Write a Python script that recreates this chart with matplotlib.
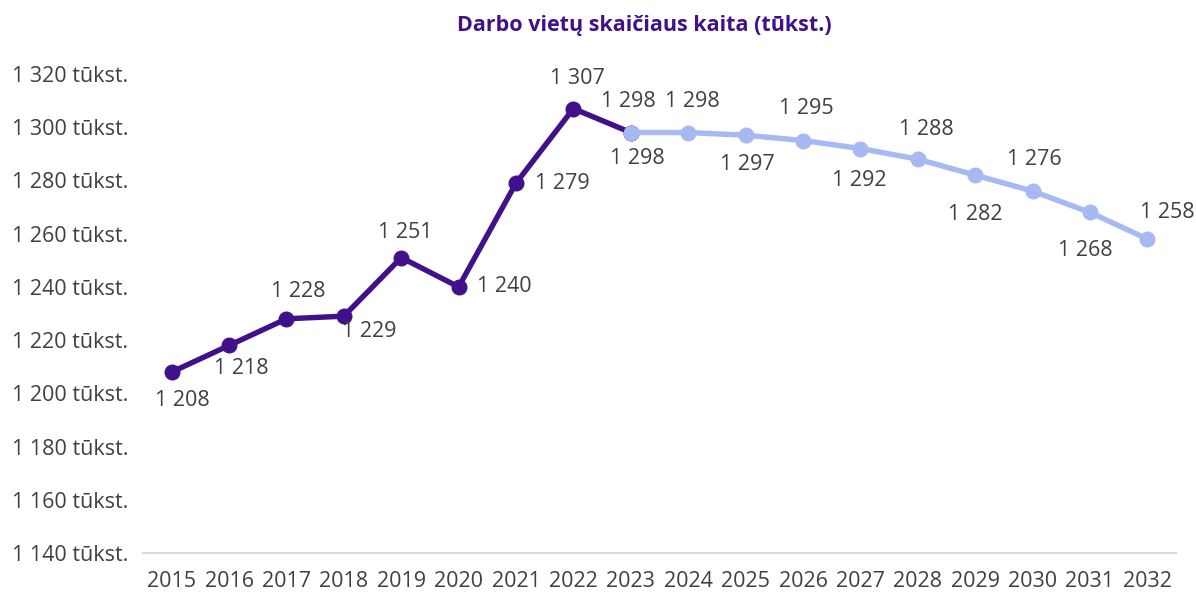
import matplotlib
matplotlib.use("Agg")
import matplotlib.pyplot as plt

plt.rcParams['font.family'] = ['Open Sans', 'DejaVu Sans']

# --- data ---
years = list(range(2015, 2033))
hist_years = list(range(2015, 2024))
hist_vals = [1208, 1218, 1228, 1229, 1251, 1240, 1279, 1307, 1298]
fc_years = list(range(2023, 2033))
fc_vals = [1298, 1298, 1297, 1295, 1292, 1288, 1282, 1276, 1268, 1258]
yticks = list(range(1140, 1321, 20))

# label offsets in pixels (dx, dy up) relative to the marker
hist_off = [(11, -28), (12, -23), (12, 27), (25, -15), (4, 25),
            (46, 0), (46, 0), (4, 30), (-2, 31)]
fc_off = [(7, -26), (4, 31), (2, -29), (3, 32), (-1, -32),
          (9, 30), (0, -39), (2, 32), (-5, -38), (20, 26)]

dark = '#41118B'
light = '#A6B9F2'
txt = '#404040'
fs = 15.5


def fmt(v):
    return f"{v:,}".replace(",", " ")


fig = plt.figure(figsize=(11.96, 5.94), dpi=100)
ax = fig.add_axes([143 / 1196, 1 - 553 / 594, (1176 - 143) / 1196, (553 - 74) / 594])

ax.plot(hist_years, hist_vals, color=dark, lw=3.9, marker='o', ms=10.5, zorder=2)
ax.plot(fc_years, fc_vals, color=light, lw=3.9, marker='o', ms=10.5, zorder=3)

for x, v, (dx, dy) in zip(hist_years, hist_vals, hist_off):
    ax.annotate(fmt(v), (x, v), xytext=(dx, dy), textcoords='offset pixels',
                ha='center', va='center', fontsize=fs, color=txt)
for x, v, (dx, dy) in zip(fc_years, fc_vals, fc_off):
    ax.annotate(fmt(v), (x, v), xytext=(dx, dy), textcoords='offset pixels',
                ha='center', va='center', fontsize=fs, color=txt)

ax.set_xlim(2014.5, 2032.5)
ax.set_ylim(1140, 1320)
ax.set_xticks(years)
ax.set_xticklabels([str(y) for y in years], fontsize=fs, color=txt)
ax.set_yticks(yticks)
ax.set_yticklabels([fmt(v) + " tūkst." for v in yticks], fontsize=fs, color=txt)
for lab in ax.get_yticklabels():
    lab.set_ha('left')
ax.tick_params(axis='y', length=0, pad=131 * 0.72)
ax.tick_params(axis='x', length=0, pad=13)

for s in ['top', 'right', 'left']:
    ax.spines[s].set_visible(False)
ax.spines['bottom'].set_color('#D9D9D9')
ax.spines['bottom'].set_linewidth(1.5)

fig.text(644 / 1196, 1 - 25 / 594, "Darbo vietų skaičiaus kaita (tūkst.)",
         ha='center', va='center', fontsize=15.5, fontweight='bold', color=dark)

fig.savefig("out.png", dpi=100)
